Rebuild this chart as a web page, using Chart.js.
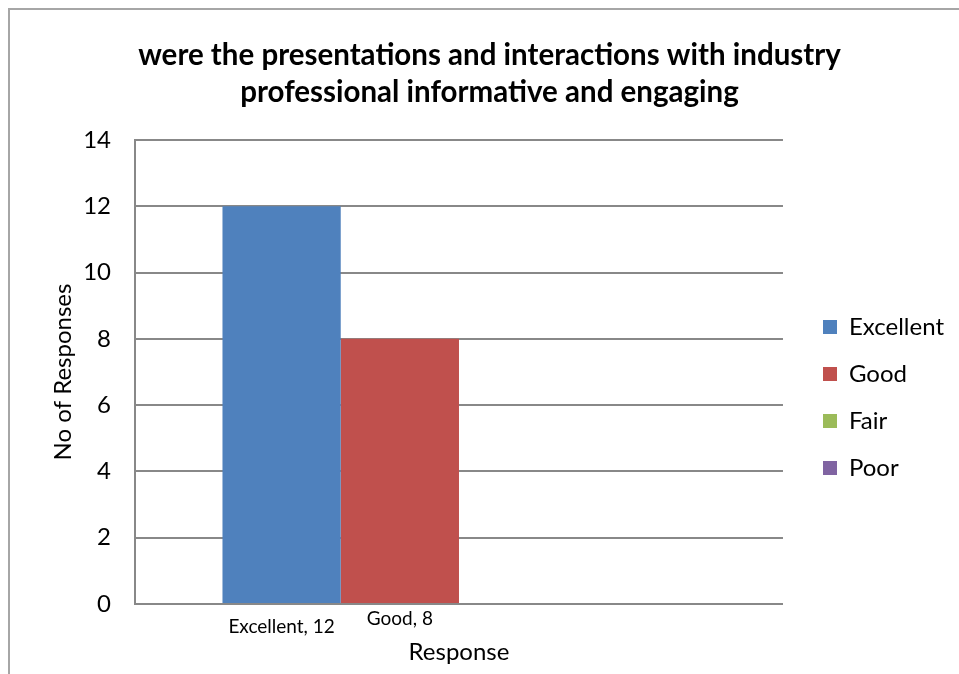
<!DOCTYPE html>
<html>
<head>
<meta charset="utf-8">
<script src="https://cdn.jsdelivr.net/npm/chart.js@4.4.0/dist/chart.umd.min.js"></script>
<style>
  html, body { margin: 0; padding: 0; background: #fff; }
  #wrap { width: 959px; height: 674px; }
</style>
</head>
<body>
<div id="wrap"><canvas id="surveyChart" width="959" height="674"></canvas></div>
<script>
// ===== Data =====
const categories = [''];
const responseLabels = ['Excellent', 'Good', 'Fair', 'Poor'];
const responseCounts = [12, 8, 0, 0];
const responseColors = ['#4F81BD', '#C0504D', '#9BBB59', '#8064A2'];
const yTicks = [0, 2, 4, 6, 8, 10, 12, 14];
const titleLines = [
  'were the presentations and interactions with industry',
  'professional informative and engaging'
];

const FONT = 'Lato, "Open Sans", sans-serif';
const GRID = '#888888';

// ===== Plugins =====
// white page with the grey outer frame
const framePlugin = {
  id: 'frame',
  beforeDraw(chart) {
    const ctx = chart.ctx;
    ctx.save();
    ctx.fillStyle = '#fff';
    ctx.fillRect(0, 0, chart.width, chart.height);
    ctx.strokeStyle = '#a6a6a6';
    ctx.lineWidth = 2;
    ctx.strokeRect(9, 9, chart.width + 20, chart.height + 20);
    ctx.restore();
  }
};

// park the legend a little right of the plot and lower down
const legendPlacePlugin = {
  id: 'legendPlace',
  afterLayout(chart) {
    const lg = chart.legend;
    const w = lg.right - lg.left;
    lg.left = chart.chartArea.right + 17;
    lg.right = lg.left + w;
    lg.top = 292;
    lg.bottom = 674;
  }
};

// "Series, value" labels under each non-zero bar, staggered
const barLabelPlugin = {
  id: 'barLabels',
  afterDatasetsDraw(chart) {
    const ctx = chart.ctx;
    const base = chart.chartArea.bottom;
    ctx.save();
    ctx.font = '19px ' + FONT;
    ctx.fillStyle = '#000';
    ctx.textAlign = 'center';
    ctx.textBaseline = 'middle';
    chart.data.datasets.forEach((ds, i) => {
      const value = ds.data[0];
      if (!value) return;
      const bar = chart.getDatasetMeta(i).data[0];
      const dy = i % 2 === 0 ? 23 : 14.5;
      ctx.fillText(`${ds.label}, ${value}`, bar.x, base + dy);
    });
    ctx.restore();
  }
};

// ===== Chart =====
const datasets = responseLabels.map((label, i) => ({
  label,
  data: [responseCounts[i]],
  backgroundColor: responseColors[i],
  borderWidth: 0,
  categoryPercentage: 0.73,
  barPercentage: 1.0,
}));

new Chart(document.getElementById('surveyChart'), {
  type: 'bar',
  data: { labels: categories, datasets },
  plugins: [framePlugin, legendPlacePlugin, barLabelPlugin],
  options: {
    responsive: false,
    animation: false,
    layout: { padding: { top: 30, left: 42, right: 22, bottom: 0 } },
    scales: {
      x: {
        grid: { display: false, drawTicks: false },
        border: { display: true, color: GRID, width: 2 },
        ticks: { display: false },
        title: {
          display: true,
          text: 'Response',
          color: '#000',
          font: { family: FONT, size: 24 },
          padding: { top: 0, bottom: 7.6 },
        },
        afterFit(scale) { scale.height = 70; },
      },
      y: {
        min: 0,
        max: 14,
        afterBuildTicks(scale) { scale.ticks = yTicks.map((v) => ({ value: v })); },
        grid: { color: GRID, lineWidth: 2, drawTicks: false },
        border: { display: true, color: GRID, width: 2 },
        ticks: {
          color: '#000',
          padding: 24,
          font: { family: FONT, size: 24 },
        },
        title: {
          display: true,
          text: 'No of Responses',
          color: '#000',
          font: { family: FONT, size: 24 },
          padding: { top: 6.6, bottom: 0 },
        },
        afterFit(scale) { scale.width = 93; },
      },
    },
    plugins: {
      title: {
        display: true,
        text: titleLines,
        color: '#000',
        font: { family: FONT, size: 29.5, weight: 'bold', lineHeight: 37 / 29.5 },
        padding: { top: 7, bottom: 29 },
      },
      legend: {
        position: 'right',
        align: 'start',
        labels: {
          color: '#000',
          boxWidth: 14,
          boxHeight: 14,
          padding: 23,
          font: { family: FONT, size: 24 },
        },
      },
      tooltip: { enabled: false },
    },
  },
});
</script>
</body>
</html>
